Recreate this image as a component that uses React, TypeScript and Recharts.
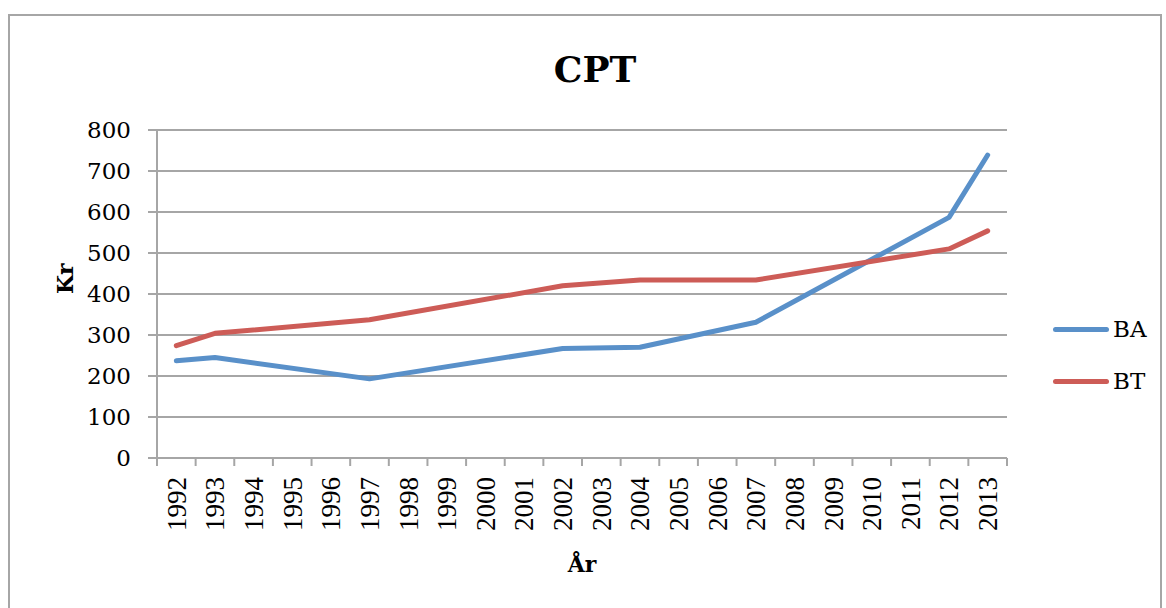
import React from 'react';
import { LineChart, Line, XAxis, YAxis, CartesianGrid } from 'recharts';

const years = [
  '1992', '1993', '1994', '1995', '1996', '1997', '1998', '1999', '2000', '2001', '2002',
  '2003', '2004', '2005', '2006', '2007', '2008', '2009', '2010', '2011', '2012', '2013',
];

// only some years have values; the lines are drawn straight across the gaps
const baValues = [237, 245, null, null, null, 193, null, null, null, null, 267, null, 270, null, null, 331, null, null, null, null, 587, 739];
const btValues = [274, 304, null, null, null, 337, null, null, null, null, 420, null, 434, null, null, 434, null, null, null, null, 510, 554];

const yTicks = [0, 100, 200, 300, 400, 500, 600, 700, 800];

const seriesNames = ['BA', 'BT'];
const seriesColors = ['#5990C9', '#CD5C57'];

const data = years.map((year, i) => ({ year, BA: baValues[i], BT: btValues[i] }));

const AXIS_GRAY = '#a6a6a6';
const SERIF = '"DejaVu Serif", serif';

function YearTick(props: any) {
  const { x, y, payload, index } = props;
  const half = payload && payload.offset ? payload.offset : 19.3;
  const top = y - 8;
  return (
    <g>
      <line x1={x - half} y1={top} x2={x - half} y2={top + 8} stroke={AXIS_GRAY} strokeWidth={2} />
      {index === years.length - 1 && (
        <line x1={x + half} y1={top} x2={x + half} y2={top + 8} stroke={AXIS_GRAY} strokeWidth={2} />
      )}
      <text
        x={x}
        y={top + 19}
        dy="0.35em"
        transform={`rotate(-90, ${x}, ${top + 19})`}
        textAnchor="end"
        fontFamily='"Liberation Serif", serif'
        fontSize={27}
        fill="#000"
      >
        {payload.value}
      </text>
    </g>
  );
}

export default function App() {
  return (
    <div style={{ position: 'absolute', left: 0, top: 0, width: 1166, height: 608, background: '#fff', overflow: 'hidden' }}>
      <div
        style={{
          position: 'absolute',
          left: 8,
          top: 14,
          width: 1150,
          height: 620,
          border: `2px solid ${AXIS_GRAY}`,
        }}
      />
      <div
        style={{
          position: 'absolute',
          left: 0,
          width: 1166,
          top: 48,
          textAlign: 'center',
          fontFamily: SERIF,
          fontWeight: 'bold',
          fontSize: 36,
          paddingLeft: 24,
          boxSizing: 'border-box',
        }}
      >
        CPT
      </div>
      <div style={{ position: 'absolute', left: 0, top: 0 }}>
        <LineChart width={1166} height={608} data={data} margin={{ top: 130, right: 159, bottom: 0, left: 0 }}>
          <CartesianGrid vertical={false} stroke={AXIS_GRAY} strokeWidth={2} />
          <XAxis
            dataKey="year"
            scale="band"
            height={150}
            interval={0}
            axisLine={{ stroke: AXIS_GRAY, strokeWidth: 2 }}
            tickLine={false}
            tick={<YearTick />}
            label={{ value: 'År', position: 'insideBottom', offset: 36, fontFamily: SERIF, fontWeight: 'bold', fontSize: 22, fill: '#000' }}
          />
          <YAxis
            width={157}
            domain={[0, 800]}
            ticks={yTicks}
            interval={0}
            axisLine={{ stroke: AXIS_GRAY, strokeWidth: 2 }}
            tickLine={{ stroke: AXIS_GRAY, strokeWidth: 2 }}
            tickSize={9}
            tickMargin={17}
            tick={{ fontFamily: SERIF, fontSize: 23, fill: '#000' }}
            label={{ value: 'Kr', angle: -90, position: 'insideLeft', offset: 65, fontFamily: SERIF, fontWeight: 'bold', fontSize: 22, fill: '#000' }}
          />
          {seriesNames.map((name, i) => (
            <Line
              key={name}
              dataKey={name}
              type="linear"
              stroke={seriesColors[i]}
              strokeWidth={5}
              strokeLinecap="round"
              strokeLinejoin="round"
              dot={false}
              activeDot={false}
              connectNulls
              isAnimationActive={false}
            />
          ))}
        </LineChart>
      </div>
      <div style={{ position: 'absolute', left: 1053, top: 312 }}>
        {seriesNames.map((name, i) => (
          <div key={name} style={{ display: 'flex', alignItems: 'center', height: 34, marginBottom: 18 }}>
            <div style={{ width: 56, height: 5, borderRadius: 3, background: seriesColors[i], marginRight: 4 }} />
            <span style={{ fontFamily: SERIF, fontSize: 23, color: '#000' }}>{name}</span>
          </div>
        ))}
      </div>
    </div>
  );
}
